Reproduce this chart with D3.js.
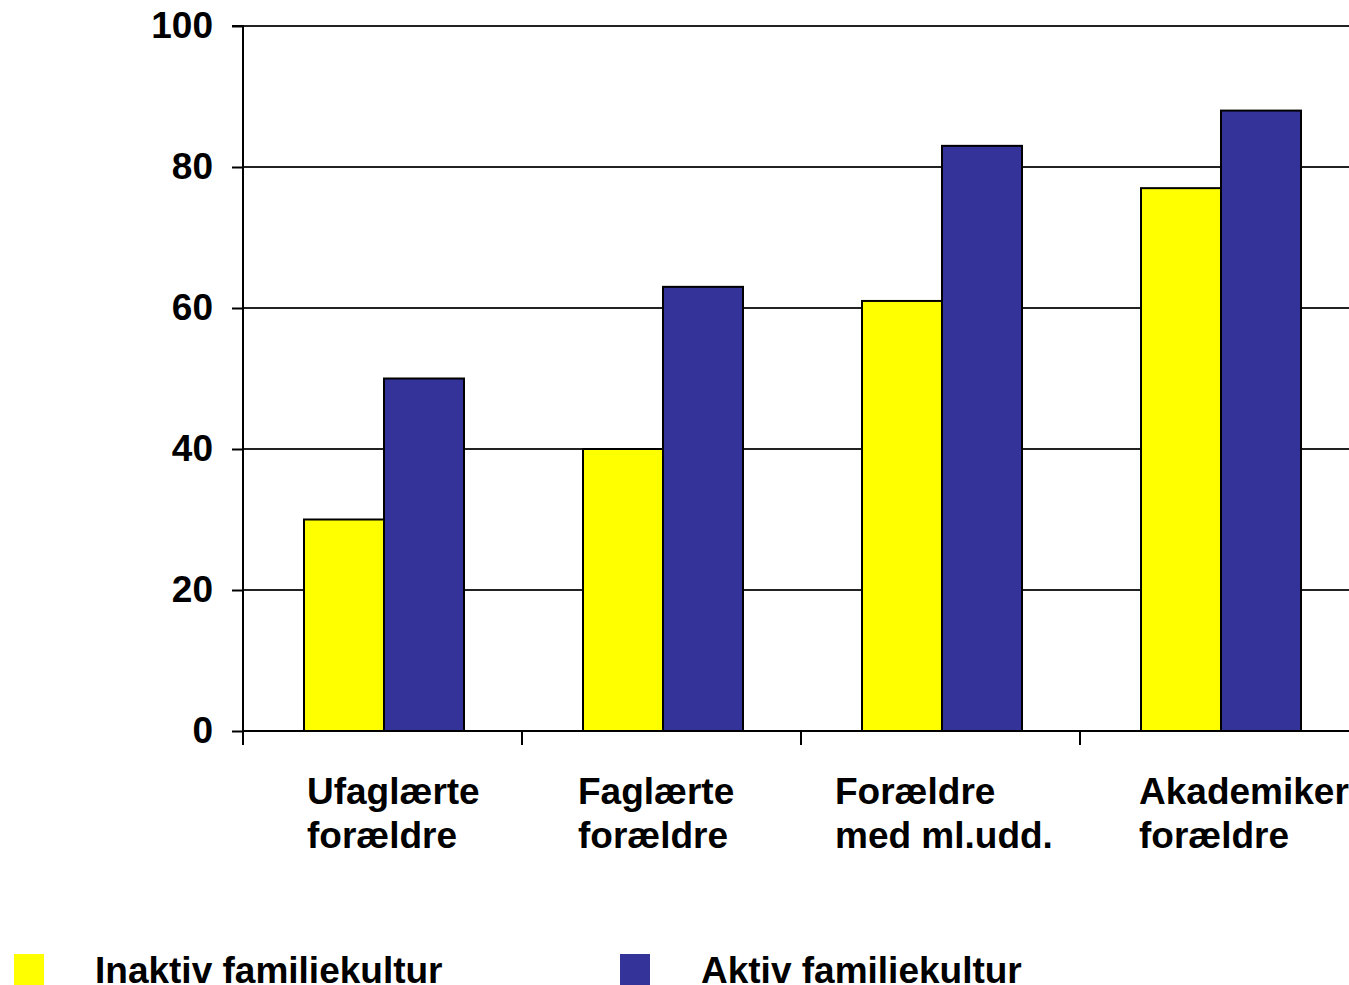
<!DOCTYPE html>
<html><head><meta charset="utf-8">
<script src="https://cdn.jsdelivr.net/npm/d3@7"></script>
<style>html,body{margin:0;padding:0;background:#fff;overflow:hidden}</style>
</head><body>
<svg id="c" width="1349" height="985"></svg>
<script>
const categories = [["Ufaglærte","forældre"],["Faglærte","forældre"],["Forældre","med ml.udd."],["Akademiker","forældre"]];
const seriesNames = ["Inaktiv familiekultur","Aktiv familiekultur"];
const inaktiv = [30, 40, 61, 77];
const aktiv = [50, 63, 83, 88];
const yTicks = [0, 20, 40, 60, 80, 100];
const colors = ["#FFFF00", "#333399"];
const labelDx = [64, 56, 34, 59];

const svg = d3.select("#c");
const font = "'Liberation Sans', Arial, sans-serif";
const L = 243, R = 1359, T = 26, B = 731;
const keys = categories.map((c,i)=>i);
const x = d3.scaleBand().domain(keys).range([L, R]).paddingInner(0).paddingOuter(0);
const y = d3.scaleLinear().domain([0, 100]).range([B, T]);
const groupW = 160;
const x1 = d3.scaleBand().domain([0,1]).range([0, groupW]);

// gridlines
svg.append("g").selectAll("line").data(yTicks.filter(t=>t>0)).join("line")
  .attr("x1", L).attr("x2", R).attr("y1", d=>y(d)).attr("y2", d=>y(d))
  .attr("stroke", "#222").attr("stroke-width", 2);

// bars
const series = [inaktiv, aktiv];
const g = svg.append("g");
keys.forEach(i=>{
  const gx = x(i) + (x.bandwidth() - groupW)/2 + 1.5;
  series.forEach((s, j)=>{
    g.append("rect")
      .attr("x", gx + x1(j)).attr("y", y(s[i]))
      .attr("width", x1.bandwidth()).attr("height", y(0) - y(s[i]))
      .attr("fill", colors[j]).attr("stroke", "#000").attr("stroke-width", 2);
  });
});

// y axis
const yAxis = d3.axisLeft(y).tickValues(yTicks).tickSize(11).tickPadding(19).tickFormat(d3.format("d"));
const ya = svg.append("g").attr("transform", `translate(${L},0)`).call(yAxis);
ya.select(".domain").attr("stroke", "#000").attr("stroke-width", 2).attr("d", `M-11,${T}H0V${B}`);
ya.selectAll(".tick line").attr("stroke", "#000").attr("stroke-width", 2);
ya.selectAll(".tick text").attr("font-family", font).attr("font-size", 37).attr("font-weight", "bold").attr("fill", "#000");

// x axis
const xAxis = d3.axisBottom(x).tickValues([]).tickSizeOuter(0);
const xa = svg.append("g").attr("transform", `translate(0,${B})`).call(xAxis);
xa.select(".domain").attr("stroke", "#000").attr("stroke-width", 2).attr("d", `M${L},0H${R}`);
xa.selectAll("line.sep").data(keys).join("line").attr("class","sep")
  .attr("x1", d=>x(d)).attr("x2", d=>x(d)).attr("y1", 0).attr("y2", 14)
  .attr("stroke", "#000").attr("stroke-width", 2);

// category labels
keys.forEach(i=>{
  const t = svg.append("text").attr("font-family", font).attr("font-size", 37).attr("font-weight", "bold")
    .attr("x", x(i) + labelDx[i]).attr("y", 804);
  categories[i].forEach((line, k)=>{
    t.append("tspan").attr("x", x(i) + labelDx[i]).attr("dy", k===0?0:44).text(line);
  });
});

// legend
const legX = [14, 620];
seriesNames.forEach((n, j)=>{
  svg.append("rect").attr("x", legX[j]).attr("y", 954).attr("width", 30).attr("height", 31).attr("fill", colors[j]);
  svg.append("text").attr("x", legX[j] + 81).attr("y", 983)
    .attr("font-family", font).attr("font-size", 37).attr("font-weight", "bold").text(n);
});
</script>
</body></html>
